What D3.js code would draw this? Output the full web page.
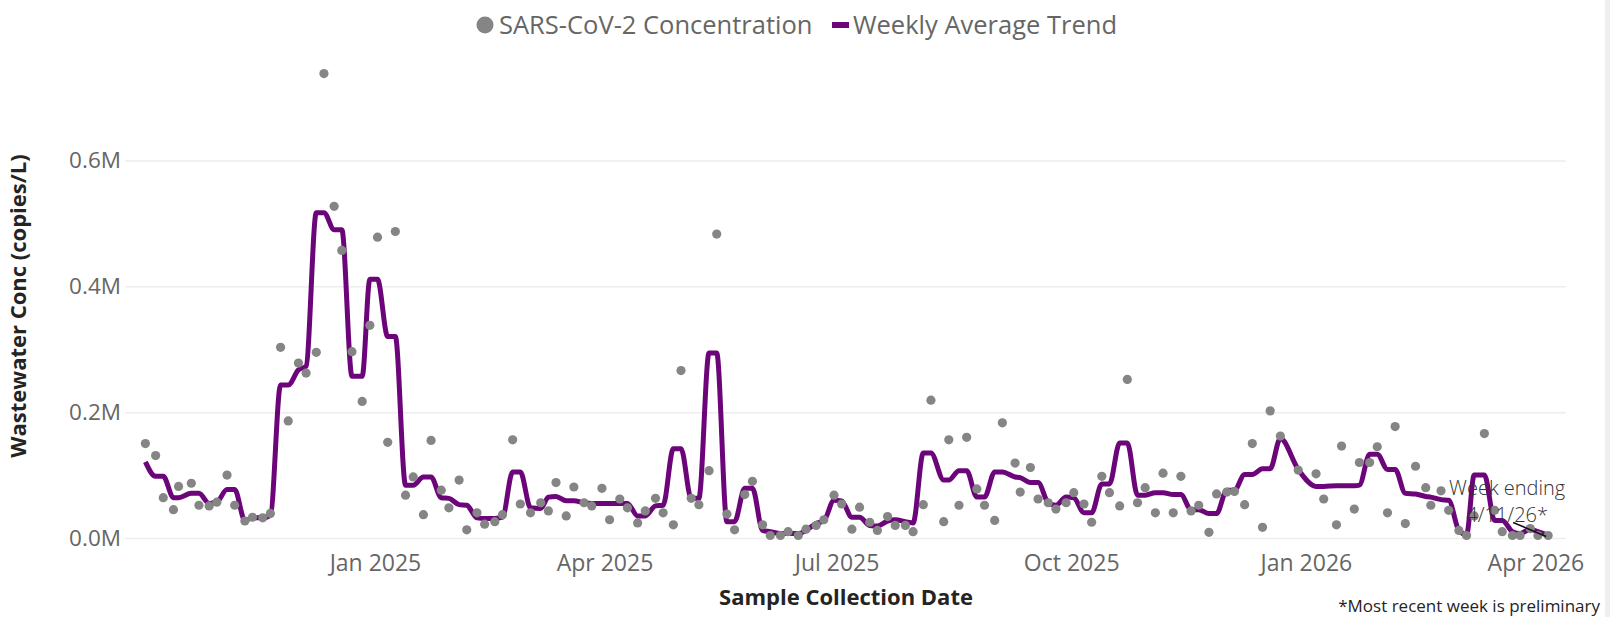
<!DOCTYPE html>
<html>
<head>
<meta charset="utf-8">
<script src="https://cdn.jsdelivr.net/npm/d3@7"></script>
<style>
  body { margin: 0; background: #fff; }
  #chart { width: 1619px; height: 617px; }
  text { font-family: "Segoe UI", "Open Sans", sans-serif; }
</style>
</head>
<body>
<div id="chart"></div>
<script>
(function () {

  // sample dates (Mon / Thu collections)
  const sampleDates = [
    "2024-10-03","2024-10-07","2024-10-10","2024-10-14","2024-10-16","2024-10-21","2024-10-24","2024-10-28","2024-10-31",
    "2024-11-04","2024-11-07","2024-11-11","2024-11-14","2024-11-18","2024-11-21","2024-11-25","2024-11-28",
    "2024-12-02","2024-12-05","2024-12-09","2024-12-12","2024-12-16","2024-12-19","2024-12-23","2024-12-27","2024-12-30",
    "2025-01-02","2025-01-06","2025-01-09","2025-01-13","2025-01-16","2025-01-20","2025-01-23","2025-01-27","2025-01-30",
    "2025-02-03","2025-02-06","2025-02-10","2025-02-13","2025-02-17","2025-02-20","2025-02-24","2025-02-27",
    "2025-03-03","2025-03-07","2025-03-10","2025-03-13","2025-03-17","2025-03-20","2025-03-24","2025-03-27","2025-03-31",
    "2025-04-03","2025-04-07","2025-04-10","2025-04-14","2025-04-17","2025-04-21","2025-04-24","2025-04-28",
    "2025-05-01","2025-05-05","2025-05-08","2025-05-12","2025-05-15","2025-05-19","2025-05-22","2025-05-26","2025-05-29",
    "2025-06-02","2025-06-05","2025-06-09","2025-06-12","2025-06-16","2025-06-19","2025-06-23","2025-06-26","2025-06-30",
    "2025-07-03","2025-07-07","2025-07-10","2025-07-14","2025-07-17","2025-07-21","2025-07-24","2025-07-28","2025-07-31",
    "2025-08-04","2025-08-07","2025-08-12","2025-08-14","2025-08-18","2025-08-21","2025-08-25","2025-08-28",
    "2025-09-01","2025-09-04","2025-09-09","2025-09-11","2025-09-15","2025-09-18","2025-09-22","2025-09-25","2025-09-29",
    "2025-10-02","2025-10-06","2025-10-09","2025-10-13","2025-10-16","2025-10-20","2025-10-23","2025-10-27","2025-10-30",
    "2025-11-03","2025-11-06","2025-11-10","2025-11-13","2025-11-17","2025-11-20","2025-11-24","2025-11-27",
    "2025-12-01","2025-12-04","2025-12-08","2025-12-11","2025-12-15","2025-12-18","2025-12-22","2025-12-29",
    "2026-01-05","2026-01-08","2026-01-13","2026-01-15","2026-01-20","2026-01-22","2026-01-26","2026-01-29",
    "2026-02-02","2026-02-05","2026-02-09","2026-02-13","2026-02-17","2026-02-19","2026-02-23","2026-02-26",
    "2026-03-02","2026-03-05","2026-03-08","2026-03-12","2026-03-16","2026-03-19","2026-03-23","2026-03-26","2026-03-30",
    "2026-04-02","2026-04-06"
  ]

  // SARS-CoV-2 concentration, thousands of copies/L
  const concentration = [
    150,131,64,45,82,87,52,51,57,100,52,27,33,32,39,303,186,278,262,295,738,527,457,296,217,338,
    478,152,487,68,97,37,155,76,48,92,13,40,22,26,37,156,54,
    40,56,43,88,35,81,56,51,79,
    29,62,48,24,43,63,40,21,
    266,63,53,107,483,38,13,69,90,
    21,4,4,10,4,14,20,29,68,
    54,14,49,25,12,34,20,20,10,
    53,219,26,156,52,160,78,52,
    28,183,119,73,112,62,56,46,56,
    72,54,25,98,72,51,252,56,80,
    40,103,40,98,43,52,9,70,
    73,74,53,150,17,202,162,108,
    102,62,21,146,46,120,120,145,
    40,177,23,114,80,52,75,44,
    12,4,35,166,44,10,4,4,15,
    4,4
  ]

  // weekly average trend at each sample date, thousands of copies/L
  const weeklyTrend = [
    121,98,98,64,64,71,71,55,57,77,77,28,32,32,36,243,243,267,273,517,517,490,490,257,257,411,
    411,320,320,84,84,97,97,64,63,53,52,32,31,31,33,105,105,
    48,47,65,66,59,59,56,55,55,
    55,55,55,35,35,51,52,142,
    142,63,63,294,294,26,26,79,79,
    12,10,7,7,7,12,23,27,60,
    59,33,33,20,19,27,29,26,24,
    135,135,92,92,107,107,65,65,
    105,105,97,96,88,88,56,52,65,
    64,40,40,86,86,151,151,68,68,
    72,72,69,69,45,45,39,39,
    76,76,101,101,110,110,158,109,
    82,82,83,83,83,84,133,133,
    109,109,71,70,66,65,61,60,
    12,5,100,100,28,28,10,7,14,
    10,4
  ]

  const yTicks = [0, 200000, 400000, 600000]
  const xTicks = ["2025-01-01", "2025-04-01", "2025-07-01", "2025-10-01", "2026-01-01", "2026-04-01"]
  const xDomain = ["2024-09-25", "2026-04-13"]

  const parseDate = d3.timeParse("%Y-%m-%d")

  const datapoints = sampleDates.map((d, i) => ({
    date: parseDate(d),
    conc: concentration[i] * 1000,
    trend: weeklyTrend[i] * 1000
  }))

  const margin = { top: 66, right: 53, bottom: 79, left: 125 }
  const width = 1619 - margin.left - margin.right
  const height = 617 - margin.top - margin.bottom

  const root = d3.select("#chart").append("svg")
      .attr("width", 1619)
      .attr("height", 617)

  // light bar on the far right edge
  root.append("rect")
    .attr("x", 1605).attr("y", 0)
    .attr("width", 5).attr("height", 617)
    .attr("fill", "#efefef")

  const svg = root.append("g")
      .attr("transform", "translate(" + margin.left + "," + margin.top + ")")

  const xPositionScale = d3.scaleTime()
    .domain(xDomain.map(parseDate))
    .range([0, width])

  const yPositionScale = d3.scaleLinear()
    .domain([0, 750000])
    .range([height, 0])

  // gridlines + y labels
  const yAxis = d3.axisLeft(yPositionScale)
    .tickValues(yTicks)
    .tickSize(-width)
    .tickPadding(4)
    .tickFormat(d => (d / 1e6).toFixed(1) + "M")

  svg.append("g")
    .attr("class", "axis y-axis")
    .call(yAxis)
    .call(g => g.select(".domain").remove())
    .call(g => g.selectAll(".tick line").attr("stroke", "#ededed").attr("stroke-width", 1.5))
    .call(g => g.selectAll(".tick text")
      .attr("fill", "#666666")
      .style("font-size", "22.5px"))

  const xAxis = d3.axisBottom(xPositionScale)
    .tickValues(xTicks.map(parseDate))
    .tickSize(0)
    .tickPadding(17)
    .tickFormat(d3.timeFormat("%b %Y"))

  svg.append("g")
    .attr("class", "axis x-axis")
    .attr("transform", "translate(0," + height + ")")
    .call(xAxis)
    .call(g => g.select(".domain").remove())
    .call(g => g.selectAll(".tick text")
      .attr("fill", "#666666")
      .style("font-size", "23px"))

  // weekly average trend
  const line = d3.line()
    .x(d => xPositionScale(d.date))
    .y(d => yPositionScale(d.trend))
    .curve(d3.curveMonotoneX)

  svg.append("path")
    .datum(datapoints)
    .attr("d", line)
    .attr("fill", "none")
    .attr("stroke", "#6b0579")
    .attr("stroke-width", 5)
    .attr("stroke-linejoin", "round")

  // individual samples
  svg.selectAll("circle")
    .data(datapoints)
    .join("circle")
    .attr("r", 4.6)
    .attr("cx", d => xPositionScale(d.date))
    .attr("cy", d => yPositionScale(d.conc))
    .attr("fill", "#858585")

  // label for the latest week
  const last = datapoints[datapoints.length - 1]
  const lx = xPositionScale(last.date)
  const ly = yPositionScale(last.trend)

  svg.append("line")
    .attr("x1", lx - 2).attr("y1", ly + 1)
    .attr("x2", lx - 35).attr("y2", ly - 13)
    .attr("stroke", "#111")
    .attr("stroke-width", 1.5)

  const note = svg.append("text")
    .attr("text-anchor", "middle")
    .attr("fill", "#333")
    .style("font-size", "20px")
    .style("font-weight", 300)
  note.append("tspan").attr("x", lx - 41).attr("y", ly - 40).text("Week ending")
  note.append("tspan").attr("x", lx - 41).attr("y", ly - 13).text("4/11/26*")

  // axis titles
  root.append("text")
    .attr("x", 846).attr("y", 605)
    .attr("text-anchor", "middle")
    .attr("fill", "#252423")
    .style("font-size", "22px")
    .style("font-weight", "bold")
    .text("Sample Collection Date")

  root.append("text")
    .attr("transform", "translate(26,306) rotate(-90)")
    .attr("text-anchor", "middle")
    .attr("fill", "#252423")
    .style("font-size", "22px")
    .style("font-weight", "bold")
    .text("Wastewater Conc (copies/L)")

  root.append("text")
    .attr("x", 1600).attr("y", 612)
    .attr("text-anchor", "end")
    .attr("fill", "#252423")
    .style("font-size", "17px")
    .text("*Most recent week is preliminary")

  // legend
  const legend = root.append("g").attr("transform", "translate(0,25)")
  legend.append("circle")
    .attr("cx", 485).attr("cy", 0).attr("r", 8.5)
    .attr("fill", "#858585")
  legend.append("text")
    .attr("x", 499).attr("y", 0).attr("dy", "0.35em")
    .attr("fill", "#666666")
    .style("font-size", "25.5px")
    .text("SARS-CoV-2 Concentration")
  legend.append("rect")
    .attr("x", 832).attr("y", -3).attr("width", 17).attr("height", 6)
    .attr("fill", "#6b0579")
  legend.append("text")
    .attr("x", 853).attr("y", 0).attr("dy", "0.35em")
    .attr("fill", "#666666")
    .style("font-size", "25.5px")
    .text("Weekly Average Trend")

})();
</script>
</body>
</html>
